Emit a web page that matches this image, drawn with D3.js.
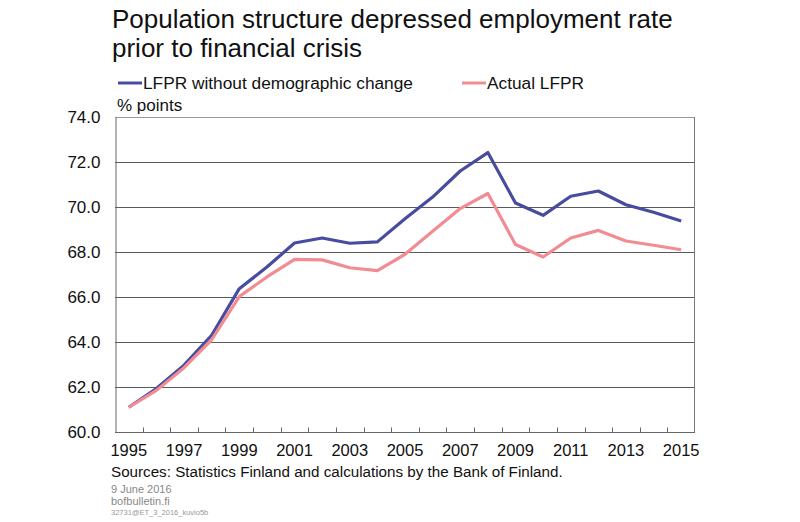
<!DOCTYPE html>
<html>
<head>
<meta charset="utf-8">
<style>
  body { margin: 0; background: #fff; }
  text { font-family: "Liberation Sans", Arial, sans-serif; }
</style>
<script src="https://d3js.org/d3.v7.min.js"></script>
</head>
<body>
<svg width="800" height="522"></svg>
<script>

var years = d3.range(1995, 2016);
var withoutDemo = [61.1, 61.93, 62.97, 64.3, 66.37, 67.33, 68.4, 68.62, 68.39, 68.45, 69.48, 70.44, 71.6, 72.42, 70.18, 69.63, 70.48, 70.71, 70.1, 69.77, 69.38];
var actual = [61.1, 61.85, 62.86, 64.1, 66.02, 66.89, 67.67, 67.65, 67.3, 67.17, 67.9, 68.92, 69.93, 70.6, 68.33, 67.78, 68.62, 68.96, 68.49, 68.3, 68.1];
var yTicks = [60, 62, 64, 66, 68, 70, 72, 74];
var xLabels = [1995, 1997, 1999, 2001, 2003, 2005, 2007, 2009, 2011, 2013, 2015];
var seriesNames = ["LFPR without demographic change", "Actual LFPR"];
var colors = ["#474c9e", "#f28c93"];

var svg = d3.select("svg");
var plotLeft = 115, plotRight = 695, plotTop = 117, plotBottom = 432;

var x = d3.scaleBand().domain(years).range([plotLeft, plotRight]);
var y = d3.scaleLinear().domain([60, 74]).range([plotBottom, plotTop]);

// title
svg.append("text").attr("x", 112).attr("y", 28).attr("font-size", 26).attr("fill", "#111")
    .text("Population structure depressed employment rate");
svg.append("text").attr("x", 112).attr("y", 57).attr("font-size", 26).attr("fill", "#111")
    .text("prior to financial crisis");

// legend
var legendX = [118, 462];
seriesNames.forEach(function(name, i) {
    svg.append("line")
        .attr("x1", legendX[i]).attr("x2", legendX[i] + 24)
        .attr("y1", 83).attr("y2", 83)
        .attr("stroke", colors[i]).attr("stroke-width", 3);
    svg.append("text").attr("x", legendX[i] + 25).attr("y", 89)
        .attr("font-size", 17.3).attr("fill", "#111").text(name);
});

svg.append("text").attr("x", 117).attr("y", 111).attr("font-size", 17).attr("fill", "#111")
    .text("% points");

// grid
svg.append("g").selectAll("line")
    .data(yTicks.slice(1, -1))
    .enter().append("line")
    .attr("x1", plotLeft).attr("x2", plotRight)
    .attr("y1", function(d) { return Math.round(y(d)) + 0.5; })
    .attr("y2", function(d) { return Math.round(y(d)) + 0.5; })
    .attr("stroke", "#5a5a5a").attr("stroke-width", 1);

svg.append("line").attr("x1", plotLeft).attr("x2", plotRight)
    .attr("y1", y(74) + 0.5).attr("y2", y(74) + 0.5)
    .attr("stroke", "#999").attr("stroke-width", 1);
svg.append("line").attr("x1", plotRight - 0.5).attr("x2", plotRight - 0.5)
    .attr("y1", y(74)).attr("y2", y(60))
    .attr("stroke", "#777").attr("stroke-width", 1);

// y axis
var yAxis = svg.append("g")
    .attr("transform", "translate(" + (plotLeft + 0.5) + ",0)")
    .call(d3.axisLeft(y).tickValues(yTicks).tickSize(0).tickPadding(15).tickFormat(d3.format(".1f")));
yAxis.select(".domain").attr("stroke", "#666");
yAxis.selectAll("text").attr("font-size", 17).attr("fill", "#111")
    .style("font-family", "'Liberation Sans', Arial, sans-serif");

// x axis: ticks between bands
var xAxis = svg.append("g").attr("transform", "translate(0," + (plotBottom + 0.5) + ")");
xAxis.append("line").attr("x1", plotLeft).attr("x2", plotRight).attr("stroke", "#666");
xAxis.selectAll(".tk")
    .data(years.slice(1))
    .enter().append("line")
    .attr("x1", function(d) { return Math.round(x(d)) + 0.5; })
    .attr("x2", function(d) { return Math.round(x(d)) + 0.5; })
    .attr("y1", 0).attr("y2", -5)
    .attr("stroke", "#666");
xAxis.selectAll(".lbl")
    .data(xLabels)
    .enter().append("text")
    .attr("x", function(d) { return x(d) + x.bandwidth() / 2; })
    .attr("y", 23)
    .attr("text-anchor", "middle")
    .attr("font-size", 16.5).attr("fill", "#111")
    .text(function(d) { return d; });

// lines
var line = d3.line()
    .x(function(d, i) { return x(years[i]) + x.bandwidth() / 2; })
    .y(function(d) { return y(d); });

[withoutDemo, actual].forEach(function(vals, i) {
    svg.append("path")
        .datum(vals)
        .attr("fill", "none")
        .attr("stroke", colors[i])
        .attr("stroke-width", 3.2)
        .attr("stroke-linejoin", "round")
        .attr("d", line);
});

// footer
svg.append("text").attr("x", 111).attr("y", 477).attr("font-size", 15.2).attr("fill", "#111")
    .text("Sources: Statistics Finland and calculations by the Bank of Finland.");
svg.append("text").attr("x", 111).attr("y", 493).attr("font-size", 11).attr("fill", "#888")
    .text("9 June 2016");
svg.append("text").attr("x", 111).attr("y", 505).attr("font-size", 11).attr("fill", "#888")
    .text("bofbulletin.fi");
svg.append("text").attr("x", 111).attr("y", 515).attr("font-size", 7.5).attr("fill", "#999")
    .text("32731@ET_3_2016_kuvio5b");

</script>
</body>
</html>
